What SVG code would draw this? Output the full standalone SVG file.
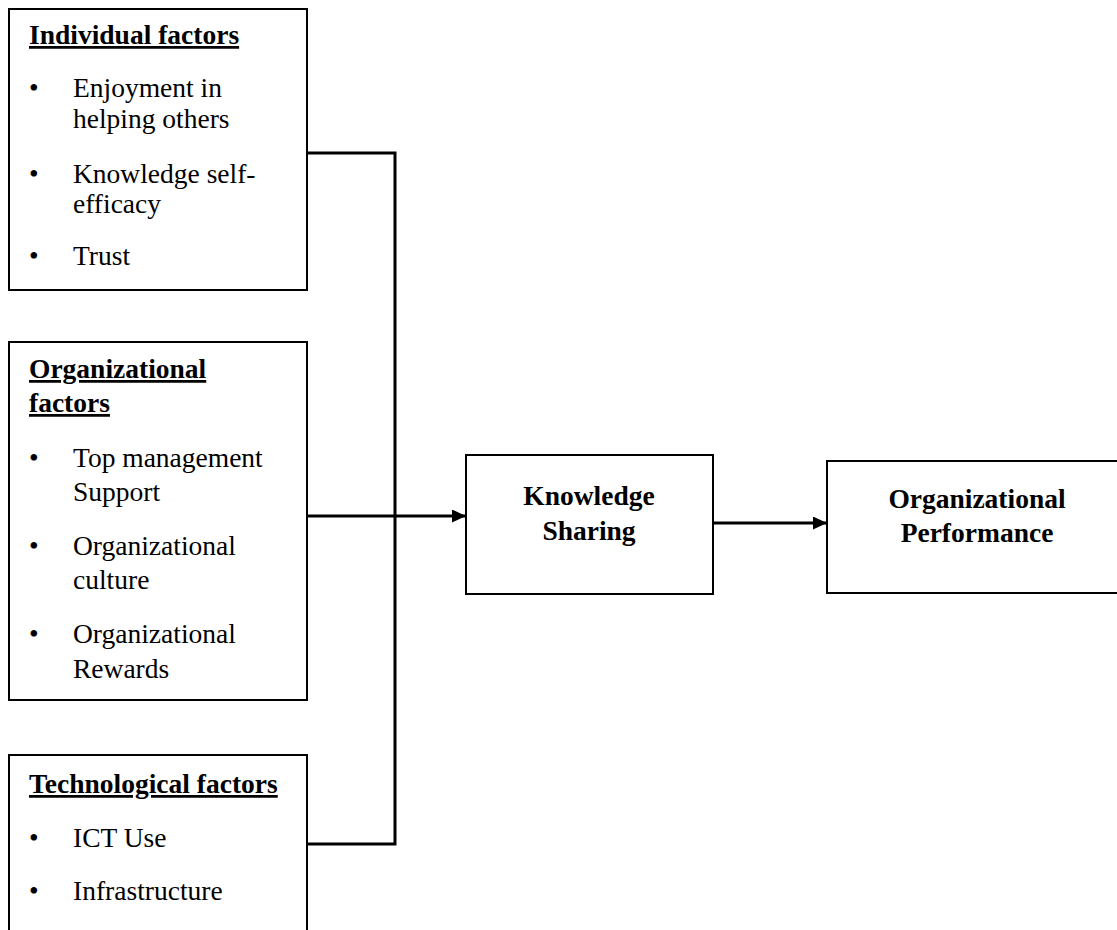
<svg xmlns="http://www.w3.org/2000/svg" width="1117" height="930" viewBox="0 0 1117 930">
  <style>
    .box { fill: #ffffff; stroke: #000000; stroke-width: 2; }
    .t { font-family: "Liberation Serif", "Times New Roman", serif; font-size: 27.5px; fill: #000000; }
    .b { font-weight: bold; }
    .u { text-decoration: underline; }
    .c { text-anchor: middle; }
    .wire { fill: none; stroke: #000000; stroke-width: 3; }
  </style>
  <defs>
    <marker id="arrow" viewBox="0 0 14 13" refX="14" refY="6.5" markerWidth="14" markerHeight="13" markerUnits="userSpaceOnUse" orient="auto">
      <path d="M0,0 L14,6.5 L0,13 Z" fill="#000000"/>
    </marker>
  </defs>

  <rect width="1117" height="930" fill="#ffffff"/>

  <!-- Individual factors -->
  <g id="individual">
    <rect class="box" x="9" y="9" width="298" height="281"/>
    <text class="t b u" x="29" y="44">Individual factors</text>
    <text class="t" x="29" y="97">•</text>
    <text class="t" x="73" y="97">Enjoyment in</text>
    <text class="t" x="73" y="128">helping others</text>
    <text class="t" x="29" y="183">•</text>
    <text class="t" x="73" y="183">Knowledge self-</text>
    <text class="t" x="73" y="213">efficacy</text>
    <text class="t" x="29" y="265">•</text>
    <text class="t" x="73" y="265">Trust</text>
  </g>

  <!-- Organizational factors -->
  <g id="organizational">
    <rect class="box" x="9" y="342" width="298" height="358"/>
    <text class="t b u" x="29" y="378">Organizational</text>
    <text class="t b u" x="29" y="412">factors</text>
    <text class="t" x="29" y="467">•</text>
    <text class="t" x="73" y="467">Top management</text>
    <text class="t" x="73" y="501">Support</text>
    <text class="t" x="29" y="555">•</text>
    <text class="t" x="73" y="555">Organizational</text>
    <text class="t" x="73" y="589">culture</text>
    <text class="t" x="29" y="643">•</text>
    <text class="t" x="73" y="643">Organizational</text>
    <text class="t" x="73" y="678">Rewards</text>
  </g>

  <!-- Technological factors -->
  <g id="technological">
    <rect class="box" x="9" y="755" width="298" height="190"/>
    <text class="t b u" x="29" y="793">Technological factors</text>
    <text class="t" x="29" y="847">•</text>
    <text class="t" x="73" y="847">ICT Use</text>
    <text class="t" x="29" y="900">•</text>
    <text class="t" x="73" y="900">Infrastructure</text>
  </g>

  <!-- Knowledge Sharing -->
  <g id="knowledge-sharing">
    <rect class="box" x="466" y="455" width="247" height="139"/>
    <text class="t b c" x="589" y="505">Knowledge</text>
    <text class="t b c" x="589" y="540">Sharing</text>
  </g>

  <!-- Organizational Performance -->
  <g id="organizational-performance">
    <rect class="box" x="827" y="461" width="300" height="132"/>
    <text class="t b c" x="977" y="508">Organizational</text>
    <text class="t b c" x="977" y="542">Performance</text>
  </g>

  <!-- Connectors -->
  <g id="connectors">
    <polyline class="wire" points="307,153 395,153 395,844 307,844"/>
    <line class="wire" x1="307" y1="516" x2="466" y2="516" marker-end="url(#arrow)"/>
    <line class="wire" x1="713" y1="523" x2="827" y2="523" marker-end="url(#arrow)"/>
  </g>
</svg>
